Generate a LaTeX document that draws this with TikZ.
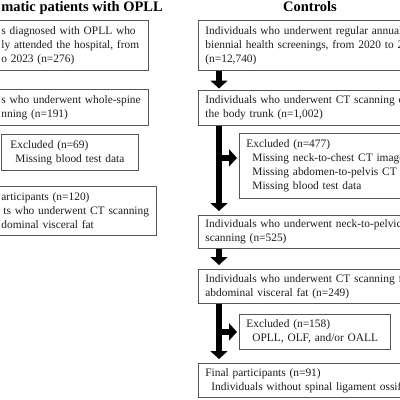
\documentclass[tikz,border=0pt]{standalone}
\usepackage{fontspec}
\setmainfont{Liberation Serif}
\usetikzlibrary{arrows.meta}
\definecolor{boxgray}{RGB}{85,85,85}
\definecolor{txtcol}{RGB}{30,30,30}
\newcommand\flowfont{\fontsize{11.4}{14}\selectfont}
\newcommand\headfont{\fontsize{14.5}{17}\selectfont\bfseries}
\begin{document}
\begin{tikzpicture}[x=1pt,y=-1pt,
  box/.style={draw=boxgray, line width=0.8pt, anchor=north west, inner xsep=7pt,
    inner ysep=0pt, align=left, font=\flowfont, text=txtcol},
  head/.style={font=\headfont, text=black, inner sep=0pt},
  bigarrow/.style={line width=6.5pt, -{Triangle[width=17pt,length=8pt]}, shorten >=3pt}]
\useasboundingbox (0,0) rectangle (400,400);
\clip (0,0) rectangle (400,400);
\fill[white] (0,0) rectangle (400,400);

% titles
\node[head, anchor=base east] (tl) at (163,11) {matic patients with OPLL};
\node[head, anchor=base] (tr) at (310,11) {Controls};

% left column
\node[box, text width=140pt, minimum height=50pt] (l1) at (-6,20)
  {\mbox{s diagnosed with OPLL who}\\\mbox{ly attended the hospital, from}\\\mbox{o 2023 (n=276)}};
\node[box, text width=140pt, minimum height=36pt] (l2) at (-6,89)
  {\mbox{s who underwent whole-spine}\\\mbox{nning (n=191)}};
\node[box, text width=123pt, minimum height=36pt] (le) at (1,134)
  {\hspace*{2pt}Excluded (n=69)\\\hspace*{7pt}\mbox{Missing blood test data}};
\node[box, text width=148pt, minimum height=49pt] (l4) at (-6,186)
  {\mbox{articipants (n=120)}\\\hspace*{2pt}\mbox{ts who underwent CT scanning}\\\mbox{dominal visceral fat}};

% right column
\node[box, text width=208pt, minimum height=50pt] (r1) at (198,20)
  {\mbox{Individuals who underwent regular annual}\\\mbox{biennial health screenings, from 2020 to 20}\\(n=12,740)};
\node[box, text width=208pt, minimum height=35pt] (r2) at (198,90)
  {\mbox{Individuals who underwent CT scanning o}\\\mbox{the body trunk (n=1,002)}};
\node[box, text width=167pt, minimum height=65pt] (e1) at (239,133)
  {Excluded (n=477)\\\hspace*{6pt}\mbox{Missing neck-to-chest CT image}\\\hspace*{6pt}\mbox{Missing abdomen-to-pelvis CT}\\\hspace*{6pt}\mbox{Missing blood test data}};
\node[box, text width=208pt, minimum height=33pt] (r3) at (198,215)
  {\mbox{Individuals who underwent neck-to-pelvic}\\\mbox{scanning (n=525)}};
\node[box, text width=208pt, minimum height=34pt] (r4) at (198,269)
  {\mbox{Individuals who underwent CT scanning f}\\\mbox{abdominal visceral fat (n=249)}};
\node[box, text width=137pt, minimum height=35pt] (e2) at (239,314)
  {Excluded (n=158)\\\hspace*{6pt}\mbox{OPLL, OLF, and/or OALL}};
\node[box, text width=208pt, minimum height=34pt] (r5) at (198,363)
  {\mbox{Final participants (n=91)}\\\hspace*{6pt}\mbox{Individuals without spinal ligament ossif}};

% arrows
\coordinate (sx) at (219,0);
\coordinate (b1) at ([yshift=8pt]e1.west);
\draw[bigarrow, shorten >=1.5pt] (r1.south -| sx) -- (r2.north -| sx);
\draw[bigarrow, shorten >=4pt] (r2.south -| sx) -- (r3.north -| sx);
\draw[bigarrow, shorten >=2pt] (sx |- b1) -- (b1);
\draw[bigarrow, shorten >=4pt] (r3.south -| sx) -- (r4.north -| sx);
\draw[bigarrow, shorten >=4pt] (r4.south -| sx) -- (r5.north -| sx);
\draw[bigarrow, shorten >=2pt] (sx |- e2.west) -- (e2.west);
\end{tikzpicture}
\end{document}
